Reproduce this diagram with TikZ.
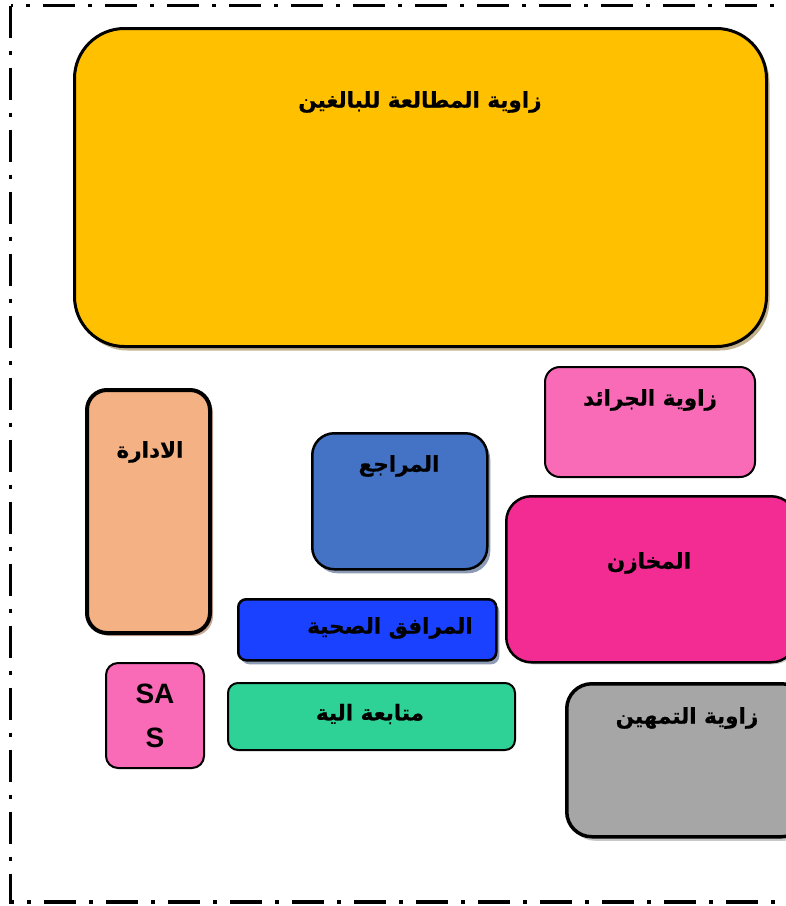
\documentclass[tikz,border=0pt]{standalone}
\usepackage{fontspec}
\setmainfont{Liberation Sans}
\newfontfamily\arabicfont[Script=Arabic, BoldFeatures={FakeBold=0.6}]{DejaVu Sans}
\TeXXeTstate=1
\usetikzlibrary{shadows}
\definecolor{cYellow}{HTML}{FFC000}
\definecolor{cYellowSh}{HTML}{C2B38C}
\definecolor{cSalmon}{HTML}{F4B183}
\definecolor{cSalmonSh}{HTML}{C9A893}
\definecolor{cBlue}{HTML}{4472C4}
\definecolor{cBlueSh}{HTML}{8E9BB5}
\definecolor{cPink}{HTML}{F96BB7}
\definecolor{cMagenta}{HTML}{F22C93}
\definecolor{cRoyal}{HTML}{1A41FF}
\definecolor{cGreen}{HTML}{2ED196}
\definecolor{cGray}{HTML}{A6A6A6}
\definecolor{cGraySh}{HTML}{C8C8C8}
\tikzset{
  roombox/.style={draw=black, line width=2.5pt, rectangle, anchor=north west, inner sep=0pt},
  roomtext/.style={font=\arabicfont\bfseries\fontsize{21.5}{24}\selectfont, inner sep=0pt},
  latintext/.style={font=\bfseries\fontsize{28}{32}\selectfont, inner sep=0pt},
  framecut/.style={line width=3.5pt, dash pattern=on 32pt off 13pt on 4pt off 13pt}
}
\begin{document}
\begin{tikzpicture}[x=1pt,y=-1pt]
\useasboundingbox (0,0) rectangle (786,906);
\clip (0,0) rectangle (786,906);
\fill[white] (0,0) rectangle (786,906);
\draw[framecut] (10.5,5.5) rectangle (820,902);

% boxes
\node[roombox, fill=cYellow, line width=3pt, rounded corners=50pt, minimum width=692pt, minimum height=318pt,
  drop shadow={shadow xshift=3pt, shadow yshift=-4pt, fill=cYellowSh, opacity=1}] (adult) at (73,27) {};
\node[roombox, fill=cSalmon, line width=4pt, rounded corners=20pt, minimum width=123pt, minimum height=243pt,
  drop shadow={shadow xshift=3pt, shadow yshift=-3pt, fill=cSalmonSh, opacity=1}] (admin) at (85,388) {};
\node[roombox, fill=cBlue, rounded corners=22pt, minimum width=175pt, minimum height=136pt,
  drop shadow={shadow xshift=3pt, shadow yshift=-4pt, fill=cBlueSh, opacity=1}] (refs) at (311,432) {};
\node[roombox, fill=cPink, line width=2pt, rounded corners=15pt, minimum width=210pt, minimum height=110pt] (news) at (544,366) {};
\node[roombox, fill=cMagenta, rounded corners=25pt, minimum width=290pt, minimum height=166pt,
  drop shadow={shadow xshift=2pt, shadow yshift=-2pt, fill=cGraySh, opacity=1}] (store) at (505,495) {};
\node[roombox, fill=cRoyal, rounded corners=8pt, minimum width=258pt, minimum height=61pt,
  drop shadow={shadow xshift=3pt, shadow yshift=-4pt, fill=cBlueSh, opacity=1}] (wc) at (237,598) {};
\node[roombox, fill=cPink, line width=2pt, rounded corners=12pt, minimum width=98pt, minimum height=105pt] (sas) at (105,662) {};
\node[roombox, fill=cGreen, line width=2pt, rounded corners=10pt, minimum width=287pt, minimum height=67pt] (follow) at (227,682) {};
\node[roombox, fill=cGray, line width=3.5pt, rounded corners=25pt, minimum width=240pt, minimum height=153pt,
  drop shadow={shadow xshift=3pt, shadow yshift=-4pt, fill=cGraySh, opacity=1}] (train) at (565,682) {};

% labels
\node[roomtext] (tAdult) at (420,102) {\beginR زاوية المطالعة للبالغين\endR};
\node[roomtext] (tAdmin) at (150,452) {\beginR الادارة\endR};
\node[roomtext] (tRefs) at (399,466) {\beginR المراجع\endR};
\node[roomtext] (tNews) at (650,400) {\beginR زاوية الجرائد\endR};
\node[roomtext] (tStore) at (649,563) {\beginR المخازن\endR};
\node[roomtext] (tWc) at (390,628) {\beginR المرافق الصحية\endR};
\node[roomtext] (tFollow) at (370,714) {\beginR متابعة الية\endR};
\node[roomtext] (tTrain) at (687,718) {\beginR زاوية التمهين\endR};
\node[latintext] (tSas1) at (155,694) {SA};
\node[latintext] (tSas2) at (155,738) {S};
\end{tikzpicture}
\end{document}
